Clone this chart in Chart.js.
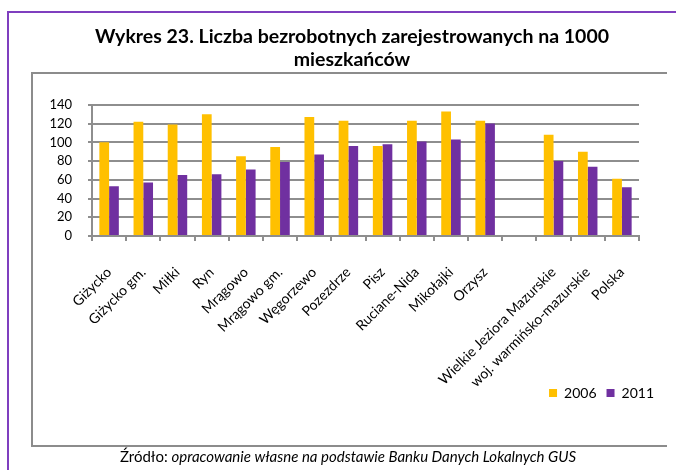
<!DOCTYPE html>
<html>
<head>
<meta charset="utf-8">
<script src="https://cdn.jsdelivr.net/npm/chart.js@4.4.1/dist/chart.umd.min.js"></script>
<style>
  html, body { margin: 0; padding: 0; background: #fff; }
  #wrap { width: 676px; height: 470px; }
</style>
</head>
<body>
<div id="wrap"><canvas id="myChart" width="676" height="470"></canvas></div>
<script>
// categories and values
const categories = ["Giżycko", "Giżycko gm.", "Miłki", "Ryn", "Mrągowo", "Mrągowo gm.", "Węgorzewo", "Pozezdrze",
  "Pisz", "Ruciane-Nida", "Mikołajki", "Orzysz", "", "Wielkie Jeziora Mazurskie", "woj. warmińsko-mazurskie", "Polska"];
const values2006 = [100, 122, 119, 130, 85, 95, 127, 123, 96, 123, 133, 123, null, 108, 90, 61];
const values2011 = [53, 57, 65, 66, 71, 79, 87, 96, 98, 101, 103, 120, null, 80, 74, 52];
const seriesNames = ["2006", "2011"];
const yMin = 0, yMax = 140, yStep = 20;
const titleLines = ["Wykres 23. Liczba bezrobotnych zarejestrowanych na 1000", "mieszkańców"];
const sourcePlain = "Źródło: ";
const sourceItalic = "opracowanie własne na podstawie Banku Danych Lokalnych GUS";

const FONT = "Lato";
const gridGray = "#8e8e8e";

// frames + source note drawn behind the chart
const framePlugin = {
  id: "frames",
  afterLayout(chart) {
    // legend sits beside the long rotated labels, not under them
    chart.legend.top -= 18;
    chart.legend.bottom -= 18;
  },
  beforeDraw(chart) {
    const c = chart.ctx;
    c.save();
    c.strokeStyle = "#7f3fbf";
    c.lineWidth = 2;
    c.beginPath();
    c.moveTo(8, 470); c.lineTo(8, 12); c.lineTo(676, 12);
    c.stroke();
    c.strokeStyle = "#8c8c8c";
    c.beginPath();
    c.moveTo(667, 73); c.lineTo(32, 73); c.lineTo(32, 446); c.lineTo(667, 446);
    c.stroke();
    // source line
    c.fillStyle = "#000";
    c.textBaseline = "middle";
    c.font = "15px " + FONT;
    const w1 = c.measureText(sourcePlain).width;
    c.font = "italic 15px " + FONT;
    const w2 = c.measureText(sourceItalic).width;
    let x = 348 - (w1 + w2) / 2;
    c.font = "15px " + FONT;
    c.fillText(sourcePlain, x, 457);
    c.font = "italic 15px " + FONT;
    c.fillText(sourceItalic, x + w1, 457);
    c.restore();
  }
};

Chart.defaults.font.family = FONT;
Chart.defaults.color = "#000";

new Chart(document.getElementById("myChart"), {
  type: "bar",
  data: {
    labels: categories,
    datasets: [
      { label: seriesNames[0], data: values2006, backgroundColor: "#FFC000", categoryPercentage: 0.57, barPercentage: 1.0 },
      { label: seriesNames[1], data: values2011, backgroundColor: "#7030A0", categoryPercentage: 0.57, barPercentage: 1.0 }
    ]
  },
  options: {
    responsive: false,
    animation: false,
    layout: { padding: { left: 40, right: 12, top: 20, bottom: 42 } },
    plugins: {
      title: {
        display: true,
        text: titleLines,
        font: { size: 19.5, weight: "bold", lineHeight: 1.15 },
        color: "#000",
        padding: { top: 6, bottom: 34 }
      },
      legend: {
        position: "bottom",
        align: "end",
        labels: { boxWidth: 8, boxHeight: 8, font: { size: 14 }, padding: 10 }
      },
      tooltip: { enabled: false }
    },
    scales: {
      x: {
        grid: { display: true, drawOnChartArea: false, drawTicks: true, tickLength: 5, color: gridGray, lineWidth: 2, offset: true },
        border: { display: true, color: gridGray, width: 2 },
        ticks: { minRotation: 45, maxRotation: 45, autoSkip: false, padding: 23, font: { size: 14 } },
        afterFit(scale) { scale.height = 158; }
      },
      y: {
        min: yMin,
        max: yMax,
        ticks: { stepSize: yStep, autoSkip: false, padding: 16, font: { size: 13 } },
        grid: { color: gridGray, lineWidth: 2, tickLength: 4 },
        border: { display: true, color: gridGray, width: 2 },
        afterFit(scale) { scale.width = 52; }
      },
      y2: {
        position: "right",
        display: true,
        ticks: { display: false },
        grid: { display: false },
        border: { display: false },
        afterFit(scale) { scale.width = 25; }
      }
    }
  },
  plugins: [framePlugin]
});
</script>
</body>
</html>
